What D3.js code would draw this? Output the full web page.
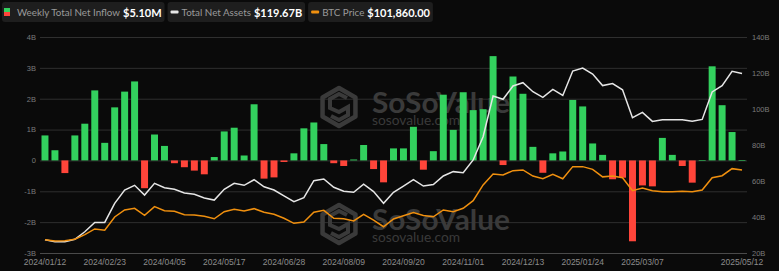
<!DOCTYPE html>
<html>
<head>
<meta charset="utf-8">
<script src="https://cdn.jsdelivr.net/npm/d3@7"></script>
<style>
  body { margin: 0; background: #0a0a0a; }
  svg { display: block; font-family: "Liberation Sans", Arial, sans-serif; }
</style>
</head>
<body>
<script>
// weekly dates (fridays), last point is the running week
var fmt = d3.timeFormat("%Y/%m/%d");
var start = new Date(2024, 0, 12);
var dates = d3.range(70).map(function(i) { return fmt(d3.timeWeek.offset(start, i)); });
dates.push("2025/05/12");

var tickLabels = ["2024/01/12", "2024/02/23", "2024/04/05", "2024/05/17", "2024/06/28", "2024/08/09",
  "2024/09/20", "2024/11/01", "2024/12/13", "2025/01/24", "2025/03/07", "2025/05/12"];

// weekly total net inflow, billions
var netInflow = [0.81, 0.33, -0.41, 0.81, 1.19, 2.27, 0.57, 1.72, 2.23, 2.56,
  -0.90, 0.84, 0.47, -0.09, -0.22, -0.33, -0.45, 0.11, 0.94, 1.06,
  0.16, 1.82, -0.59, -0.55, -0.05, 0.23, 1.04, 1.23, 0.53, -0.09,
  -0.18, 0.03, 0.50, -0.28, -0.71, 0.39, 0.39, 1.09, -0.30, 0.30,
  2.13, 0.99, 2.21, 1.63, 1.66, 3.38, -0.15, 2.72, 2.16, 0.44,
  -0.40, 0.23, 0.29, 1.96, 1.75, 0.55, 0.18, -0.61, -0.56, -2.62,
  -0.81, -0.84, 0.73, 0.18, -0.18, -0.72, 0.01, 3.05, 1.79, 0.92, 0.0051];

// total net assets, billions
var netAssets = [27.4, 26.3, 26.3, 27.6, 31.8, 37.0, 37.0, 47.6, 55.0, 57.6,
  52.2, 58.7, 56.3, 55.4, 53.3, 52.6, 50.6, 49.4, 55.4, 58.7,
  57.6, 60.7, 56.8, 55.0, 51.7, 48.5, 50.7, 60.2, 61.1, 56.5,
  54.3, 53.7, 58.2, 54.1, 47.6, 53.7, 57.2, 60.7, 57.2, 58.0,
  62.8, 65.2, 64.6, 71.7, 84.6, 107.2, 105.4, 112.8, 114.6, 109.6,
  106.5, 110.9, 107.5, 121.1, 122.7, 119.4, 113.0, 114.1, 110.7, 95.2,
  98.1, 93.1, 94.0, 94.0, 94.0, 93.2, 94.2, 109.5, 113.0, 120.9, 119.67];

// btc price, thousands of dollars
var btcPrice = [42.4, 41.3, 41.6, 42.8, 46.7, 51.6, 50.5, 61.8, 67.8, 69.2,
  63.2, 70.6, 67.2, 66.6, 63.8, 63.5, 62.4, 60.3, 66.3, 68.4,
  66.9, 68.9, 65.8, 64.1, 60.7, 56.4, 57.5, 65.8, 67.5, 60.7,
  60.3, 58.4, 64.1, 59.2, 53.5, 60.1, 62.9, 65.5, 63.0, 62.0,
  67.8, 66.3, 69.2, 75.7, 89.1, 98.4, 97.6, 101.3, 101.9, 96.7,
  94.4, 98.2, 94.4, 104.7, 104.7, 102.4, 96.0, 96.8, 95.2, 84.2,
  86.5, 84.2, 83.4, 83.4, 83.7, 83.4, 84.8, 95.3, 97.0, 103.0, 101.86];

var flowTicks = [-3, -2, -1, 0, 1, 2, 3, 4];
var assetTicks = [20, 40, 60, 80, 100, 120, 140];

var legendItems = [
  { label: "Weekly Total Net Inflow", value: "$5.10M", kind: "bar" },
  { label: "Total Net Assets", value: "$119.67B", kind: "line", color: "#e6e6e6" },
  { label: "BTC Price", value: "$101,860.00", kind: "line", color: "#f0900f" }
];

var width = 779, height = 271;
var plotLeft = 40, plotRight = 747, plotTop = 37, plotBottom = 253;

var svg = d3.select("body").append("svg")
    .attr("width", width)
    .attr("height", height);

var x = d3.scaleBand().domain(dates).range([plotLeft, plotRight]).paddingInner(0.3).paddingOuter(0.15);
var yFlow = d3.scaleLinear().domain([-3, 4]).range([plotBottom, plotTop]);
var yAssets = d3.scaleLinear().domain([20, 140]).range([plotBottom, plotTop]);
var yBtc = d3.scaleLinear().domain([31.1, 215.2]).range([plotBottom, plotTop]);

function cx(i) { return x(dates[i]) + x.bandwidth() / 2; }

// grid + left axis
var gLeft = svg.append("g")
    .attr("transform", "translate(" + plotLeft + ",0)")
    .call(d3.axisLeft(yFlow).tickValues(flowTicks)
      .tickSize(-(plotRight - plotLeft)).tickPadding(4)
      .tickFormat(function(d) { return d === 0 ? "0" : d + "B"; }));
gLeft.select(".domain").remove();
gLeft.selectAll(".tick line").attr("stroke", function(d) { return d === -3 ? "#4a4a4a" : "#2f2f2f"; });
gLeft.selectAll(".tick text").attr("fill", "#7a7a7a").attr("font-size", 7.5);

// right axis
var gRight = svg.append("g")
    .attr("transform", "translate(" + (plotRight + 1) + ",0)")
    .call(d3.axisRight(yAssets).tickValues(assetTicks).tickSize(0).tickPadding(4)
      .tickFormat(function(d) { return d + "B"; }));
gRight.select(".domain").remove();
gRight.selectAll(".tick text").attr("fill", "#7a7a7a").attr("font-size", 7.5);

// bottom axis
var gBottom = svg.append("g")
    .attr("transform", "translate(0," + plotBottom + ")")
    .call(d3.axisBottom(x).tickValues(tickLabels).tickSize(0).tickPadding(6));
gBottom.select(".domain").remove();
gBottom.selectAll(".tick text").attr("fill", "#8c8c8c").attr("font-size", 8.5);

// watermarks
function watermark(cxw, cyw) {
  var g = svg.append("g").attr("fill", "#3a3a3a").attr("stroke", "#3a3a3a");
  var r = 19;
  var hex = d3.range(6).map(function(k) {
    var a = Math.PI / 3 * k - Math.PI / 2;
    return [cxw + r * Math.cos(a), cyw + r * Math.sin(a)];
  });
  g.append("path")
      .attr("d", "M" + hex.join("L") + "Z")
      .attr("fill", "none")
      .attr("stroke-width", 4.5)
      .attr("stroke-linejoin", "round");
  g.append("path")
      .attr("d", "M" + (cxw + 8) + "," + (cyw - 9) + "L" + cxw + "," + (cyw - 13) + "L" + (cxw - 9) + "," + (cyw - 8)
        + "L" + (cxw - 9) + "," + (cyw + 1) + "L" + cxw + "," + (cyw + 5) + "L" + (cxw + 9) + "," + cyw
        + "L" + (cxw + 9) + "," + (cyw + 8) + "L" + cxw + "," + (cyw + 13) + "L" + (cxw - 8) + "," + (cyw + 9))
      .attr("fill", "none")
      .attr("stroke-width", 4);
  g.append("text")
      .attr("x", cxw + 33).attr("y", cyw + 6)
      .attr("stroke", "none")
      .attr("font-family", "Lato, sans-serif").attr("font-weight", "bold").attr("font-size", 29)
      .attr("textLength", 138).attr("lengthAdjust", "spacingAndGlyphs")
      .text("SoSoValue");
  g.append("text")
      .attr("x", cxw + 33).attr("y", cyw + 18)
      .attr("stroke", "none")
      .attr("font-family", "Lato, sans-serif").attr("font-size", 14)
      .attr("textLength", 88).attr("lengthAdjust", "spacingAndGlyphs")
      .text("sosovalue.com");
}
watermark(339, 107);
watermark(339, 224);

// bars
svg.append("g")
  .selectAll("rect")
  .data(netInflow)
  .enter().append("rect")
    .attr("x", function(d, i) { return x(dates[i]); })
    .attr("width", x.bandwidth())
    .attr("y", function(d) { return yFlow(Math.max(0, d)); })
    .attr("height", function(d) { return Math.max(0.6, Math.abs(yFlow(d) - yFlow(0))); })
    .attr("fill", function(d) { return d >= 0 ? "#33d15e" : "#ff453a"; });

// lines
var assetLine = d3.line()
    .x(function(d, i) { return cx(i); })
    .y(function(d) { return yAssets(d); });
var btcLine = d3.line()
    .x(function(d, i) { return cx(i); })
    .y(function(d) { return yBtc(d); });

svg.append("path")
    .datum(netAssets)
    .attr("d", assetLine)
    .attr("fill", "none")
    .attr("stroke", "#e6e6e6")
    .attr("stroke-width", 1.5);

svg.append("path")
    .datum(btcPrice)
    .attr("d", btcLine)
    .attr("fill", "none")
    .attr("stroke", "#f0900f")
    .attr("stroke-width", 1.5);

// legend boxes
var lx = 2;
legendItems.forEach(function(item) {
  var g = svg.append("g").attr("transform", "translate(" + lx + ",2)");
  var box = g.append("rect").attr("height", 20).attr("rx", 3).attr("fill", "#1e1e1e");
  if (item.kind === "bar") {
    g.append("rect").attr("x", 2).attr("y", 6).attr("width", 6).attr("height", 4).attr("fill", "#33d15e");
    g.append("rect").attr("x", 2).attr("y", 10).attr("width", 6).attr("height", 4).attr("fill", "#ff453a");
  } else {
    g.append("rect").attr("x", 3).attr("y", 8.5).attr("width", 8).attr("height", 3).attr("rx", 1).attr("fill", item.color);
  }
  var lbl = g.append("text")
      .attr("x", item.kind === "bar" ? 15 : 14).attr("y", 14)
      .attr("font-family", "Lato, sans-serif").attr("font-size", 9.8)
      .attr("fill", "#9a9a9a")
      .text(item.label);
  var lw = lbl.node().getComputedTextLength();
  var val = g.append("text")
      .attr("x", +lbl.attr("x") + lw + 3).attr("y", 14.5)
      .attr("font-family", "Lato, sans-serif").attr("font-size", 11).attr("font-weight", "bold")
      .attr("fill", "#ffffff")
      .text(item.value);
  var w = +val.attr("x") + val.node().getComputedTextLength() + 3;
  box.attr("width", w);
  lx += w + 3;
});
</script>
</body>
</html>
